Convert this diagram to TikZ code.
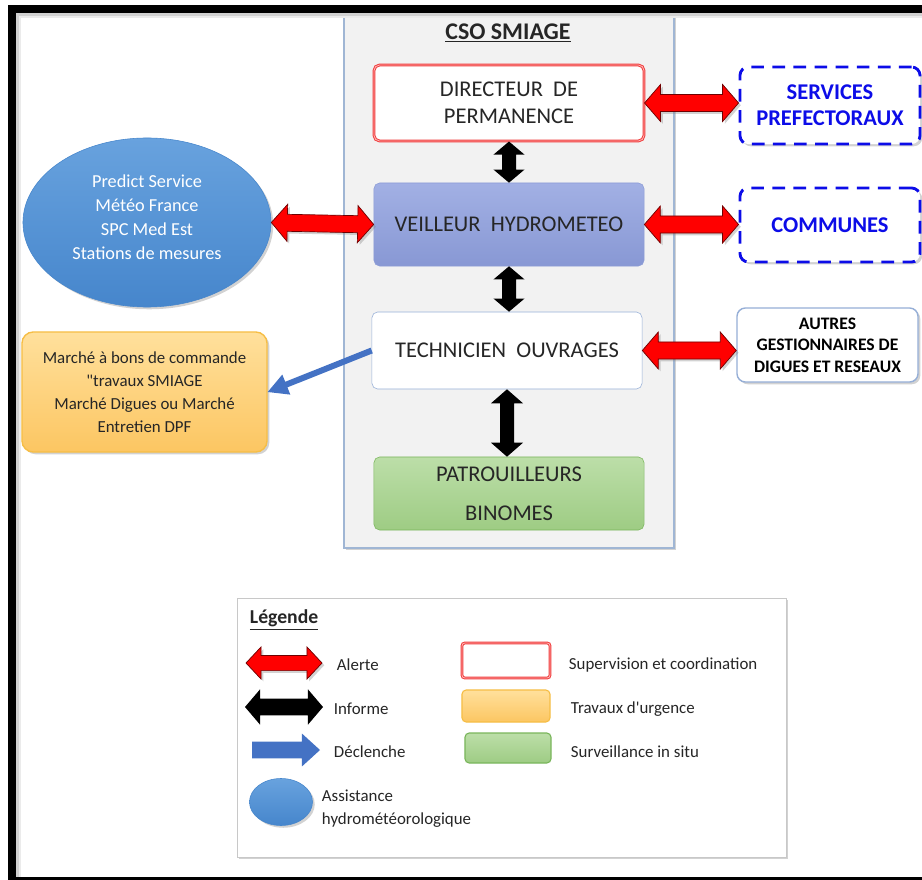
\documentclass[tikz,border=0pt]{standalone}
\usepackage{fontspec}
\setmainfont{Carlito}
\newfontfamily\rawcar[Ligatures=TeXOff]{Carlito}
\usetikzlibrary{calc,shadows,shapes.geometric}

\definecolor{txt}{RGB}{38,38,38}
\definecolor{panelfill}{RGB}{242,242,242}
\definecolor{panelborder}{RGB}{160,182,212}
\definecolor{dirred}{RGB}{240,60,60}
\definecolor{dirpink}{RGB}{255,180,180}
\definecolor{veiltop}{RGB}{162,176,228}
\definecolor{veilbot}{RGB}{136,152,212}
\definecolor{veilborder}{RGB}{140,156,214}
\definecolor{techborder}{RGB}{150,175,215}
\definecolor{greentop}{RGB}{188,222,168}
\definecolor{greenbot}{RGB}{158,204,132}
\definecolor{greenborder}{RGB}{122,182,92}
\definecolor{ortop}{RGB}{255,224,156}
\definecolor{orbot}{RGB}{252,198,98}
\definecolor{orborder}{RGB}{246,190,70}
\definecolor{elltop}{RGB}{104,162,222}
\definecolor{ellbot}{RGB}{70,134,204}
\definecolor{dashblue}{RGB}{12,12,232}
\definecolor{declblue}{RGB}{68,114,196}
\definecolor{alertred}{RGB}{255,0,0}
\definecolor{alertdark}{RGB}{110,0,0}
\definecolor{legborder}{RGB}{200,200,200}

% block arrow with two heads: [style]{from}{to}{head length}{head half width}{body half width}
\newcommand{\dblarrow}[6][]{%
  \coordinate (ts) at (#2);
  \coordinate (te) at (#3);
  \coordinate (ta) at ($(ts)!#4!(te)$);
  \coordinate (tb) at ($(te)!#4!(ts)$);
  \path[#1] (ts) -- ($(ta)!#5!90:(te)$) -- ($(ta)!#6!90:(te)$)
    -- ($(tb)!#6!-90:(ts)$) -- ($(tb)!#5!-90:(ts)$) -- (te)
    -- ($(tb)!#5!90:(ts)$) -- ($(tb)!#6!90:(ts)$)
    -- ($(ta)!#6!-90:(te)$) -- ($(ta)!#5!-90:(te)$) -- cycle;}

% block arrow with one head
\newcommand{\sglarrow}[6][]{%
  \coordinate (ts) at (#2);
  \coordinate (te) at (#3);
  \coordinate (tb) at ($(te)!#4!(ts)$);
  \path[#1] ($(ts)!#6!90:(te)$) -- ($(tb)!#6!-90:(ts)$) -- ($(tb)!#5!-90:(ts)$)
    -- (te) -- ($(tb)!#5!90:(ts)$) -- ($(tb)!#6!90:(ts)$)
    -- ($(ts)!#6!-90:(te)$) -- cycle;}

\begin{document}
\begin{tikzpicture}[x=0.025cm, y=-0.025cm,
  every node/.style={text=txt},
  shad/.style={drop shadow={shadow xshift=1.6pt, shadow yshift=-1.6pt, opacity=0.35}},
  cbox/.style={rectangle, rounded corners=4pt, minimum width=6.75cm, align=center,
    font=\fontsize{16}{19}\selectfont},
  extbox/.style={rectangle, rounded corners=6pt, minimum width=4.5cm, align=center, fill=white,
    draw=dashblue, line width=2pt, dash pattern=on 9pt off 6pt, text=dashblue,
    font=\bfseries\fontsize{16}{18.5}\selectfont, shad},
  alerte/.style={fill=alertred, draw=alertdark, line width=0.5pt, shad},
  informe/.style={fill=black},
  declenche/.style={fill=declblue},
  legtxt/.style={anchor=west, font=\fontsize{12}{15}\selectfont}]
  \useasboundingbox (0,0) rectangle (922,880);
  \fill[white] (0,0) rectangle (922,880);

  % CSO panel
  \draw[fill=panelfill, draw=panelborder, line width=1pt, shad] (344,13) rectangle (674,548);
  \node[font=\bfseries\fontsize{17}{20}\selectfont] (titre) at (508,33) {\underline{CSO SMIAGE}};

  \node[cbox, minimum height=1.9cm, fill=white, draw=dirred, double=dirpink, double distance=0.6pt,
    line width=0.7pt] (dir) at (509,103) {DIRECTEUR\ \ DE\\PERMANENCE};
  \node[cbox, minimum height=2.075cm, top color=veiltop, bottom color=veilbot, draw=veilborder]
    (veil) at (509,224.5) {VEILLEUR\ \ HYDROMETEO};
  \node[cbox, minimum height=1.925cm, fill=white, draw=techborder] (tech) at (507,350.5)
    {TECHNICIEN\ \ OUVRAGES};
  \node[cbox, minimum height=1.825cm, top color=greentop, bottom color=greenbot, draw=greenborder,
    font=\fontsize{16}{28}\selectfont] (patr) at (509,493.5) {PATROUILLEURS\\BINOMES};

  % left side
  \node[ellipse, minimum width=6.2cm, minimum height=4.225cm, top color=elltop, bottom color=ellbot,
    draw=ellbot, shad] (meteo) at (147,222.5) {};
  \node[text=white, align=center, font=\fontsize{13}{17}\selectfont] (meteotxt) at (147,217)
    {Predict Service\\Météo France\\SPC Med Est\\Stations de mesures};
  \node[rectangle, rounded corners=8pt, minimum width=6.125cm, minimum height=3cm, top color=ortop,
    bottom color=orbot, draw=orborder, line width=1pt, align=center,
    font=\fontsize{12}{16.3}\selectfont, shad] (marche) at (144.5,392)
    {Marché à bons de commande\\{\rawcar"}travaux SMIAGE\\Marché Digues ou Marché\\Entretien DPF};

  % right side
  \node[extbox, minimum height=1.925cm] (serv) at (830,105.5) {SERVICES\\PREFECTORAUX};
  \node[extbox, minimum height=1.85cm] (comm) at (830,225) {COMMUNES};
  \node[rectangle, rounded corners=6pt, minimum width=4.525cm, minimum height=1.85cm, fill=white,
    draw=techborder, line width=1pt, align=center, text=black,
    font=\bfseries\fontsize{12.5}{15.3}\selectfont, shad] (autres) at (827.5,345)
    {AUTRES\\GESTIONNAIRES DE\\DIGUES ET RESEAUX};

  % alerte
  \dblarrow[alerte]{meteo.east}{veil.west}{0.4cm}{0.4625cm}{0.2125cm}
  \dblarrow[alerte]{dir.east}{dir.east -| serv.west}{0.4cm}{0.4625cm}{0.2125cm}
  \dblarrow[alerte]{veil.east}{veil.east -| comm.west}{0.4cm}{0.4625cm}{0.2125cm}
  \dblarrow[alerte]{tech.east}{tech.east -| autres.west}{0.4cm}{0.4625cm}{0.2125cm}

  % informe
  \dblarrow[informe]{dir.south}{veil.north}{0.33cm}{0.39cm}{0.175cm}
  \dblarrow[informe]{veil.south}{veil.south |- tech.north}{0.33cm}{0.39cm}{0.175cm}
  \dblarrow[informe]{tech.south}{tech.south |- patr.north}{0.35cm}{0.4cm}{0.175cm}

  % declenche
  \sglarrow[declenche]{tech.west}{marche.east}{0.5cm}{0.27cm}{0.075cm}

  % legende
  \node[draw=legborder, fill=white, minimum width=13.725cm, minimum height=6.475cm, shad]
    (legende) at (511.5,727.5) {};
  \node[anchor=west, font=\bfseries\fontsize{14}{17}\selectfont] (legtitre) at (245,620)
    {\underline{Légende}};

  \coordinate (la1) at (246,663);
  \coordinate (la2) at (322,663);
  \dblarrow[alerte]{la1}{la2}{0.375cm}{0.4cm}{0.19cm}
  \node[legtxt] (lalerte) at (332,665) {Alerte};

  \coordinate (li1) at (245,707);
  \coordinate (li2) at (323,707);
  \dblarrow[informe]{li1}{li2}{0.375cm}{0.44cm}{0.21cm}
  \node[legtxt] (linforme) at (329,709) {Informe};

  \coordinate (ld1) at (252,750);
  \coordinate (ld2) at (320,750);
  \sglarrow[declenche]{ld1}{ld2}{0.45cm}{0.41cm}{0.21cm}
  \node[legtxt] (ldecl) at (329,752) {Déclenche};

  \node[ellipse, minimum width=1.575cm, minimum height=1.175cm, top color=elltop, bottom color=ellbot,
    draw=ellbot, shad] (lell) at (281,802) {};
  \node[legtxt, align=left, font=\fontsize{12}{16.5}\selectfont] (lassist) at (317,809)
    {Assistance\\hydrométéorologique};

  \node[rectangle, rounded corners=2pt, minimum width=2.2cm, minimum height=0.875cm, fill=white,
    draw=dirred, double=dirpink, double distance=0.6pt, line width=0.7pt] (lsuper) at (506,660.5) {};
  \node[rectangle, rounded corners=3pt, minimum width=2.2cm, minimum height=0.8cm, top color=ortop,
    bottom color=orbot, draw=orborder, line width=0.8pt] (ltrav) at (506,706) {};
  \node[rectangle, rounded corners=3pt, minimum width=2.15cm, minimum height=0.75cm,
    top color=greentop, bottom color=greenbot, draw=greenborder, line width=0.8pt]
    (lsurv) at (508,748) {};
  \node[legtxt] (tsuper) at (564,665) {Supervision et coordination};
  \node[legtxt] (ttrav) at (566,709) {Travaux d{\rawcar'}urgence};
  \node[legtxt] (tsurv) at (566,752) {Surveillance in situ};

  % outer frame
  \draw[black!18, line width=1.5pt] (17.5,881) -- (17.5,14.5) -- (930,14.5);
  \draw[black!8, line width=1.5pt] (20,881) -- (20,17) -- (930,17);
  \draw[line width=5.7pt] (12,9) rectangle (930,881);
\end{tikzpicture}
\end{document}
